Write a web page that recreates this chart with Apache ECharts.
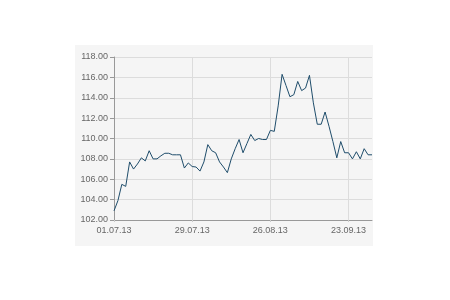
<!DOCTYPE html>
<html>
<head>
<meta charset="utf-8">
<script src="https://cdn.jsdelivr.net/npm/echarts@6/dist/echarts.min.js"></script>
<style>
html,body{margin:0;padding:0;background:#fff;}
#c{width:450px;height:300px;}
</style>
</head>
<body>
<div id="c"></div>
<script>
// Trading days 01.07.13 - 01.10.13
const dates = [
  "01.07.13","02.07.13","03.07.13","04.07.13","05.07.13",
  "08.07.13","09.07.13","10.07.13","11.07.13","12.07.13",
  "15.07.13","16.07.13","17.07.13","18.07.13","19.07.13",
  "22.07.13","23.07.13","24.07.13","25.07.13","26.07.13",
  "29.07.13","30.07.13","31.07.13","01.08.13","02.08.13",
  "05.08.13","06.08.13","07.08.13","08.08.13","09.08.13",
  "12.08.13","13.08.13","14.08.13","15.08.13","16.08.13",
  "19.08.13","20.08.13","21.08.13","22.08.13","23.08.13",
  "26.08.13","27.08.13","28.08.13","29.08.13","30.08.13",
  "02.09.13","03.09.13","04.09.13","05.09.13","06.09.13",
  "09.09.13","10.09.13","11.09.13","12.09.13","13.09.13",
  "16.09.13","17.09.13","18.09.13","19.09.13","20.09.13",
  "23.09.13","24.09.13","25.09.13","26.09.13","27.09.13",
  "30.09.13","01.10.13"
];
const prices = [
  102.9,103.9,105.5,105.3,107.7,
  107.0,107.5,108.1,107.8,108.8,
  108.0,108.0,108.3,108.55,108.55,
  108.4,108.4,108.4,107.1,107.6,
  107.25,107.2,106.8,107.7,109.4,
  108.8,108.6,107.7,107.2,106.65,
  108.0,109.0,109.9,108.6,109.5,
  110.4,109.8,110.0,109.9,109.9,
  110.8,110.7,113.2,116.3,115.2,
  114.1,114.3,115.6,114.7,114.95,
  116.2,113.5,111.4,111.4,112.6,
  111.2,109.7,108.1,109.7,108.6,
  108.6,108.0,108.7,108.0,109.0,
  108.4,108.4
];
const yTicks = { min: 102, max: 118, step: 2 };

const chart = echarts.init(document.getElementById('c'), null, {renderer:'canvas'});
const font = '"Liberation Sans", Arial, sans-serif';
chart.setOption({
  animation: false,
  backgroundColor: '#ffffff',
  graphic: [{
    type: 'rect', z: -100, silent: true,
    shape: { x: 75, y: 45, width: 298, height: 201 },
    style: { fill: '#f5f5f5' }
  }],
  grid: { left: 114, right: 78, top: 57, bottom: 80, containLabel: false },
  xAxis: {
    type: 'category',
    data: dates,
    boundaryGap: false,
    axisLine: { show: true, lineStyle: { color: '#999', width: 1 } },
    axisTick: { show: true, interval: 19, length: 2, lineStyle: { color: '#ccc' } },
    axisLabel: { interval: 19, margin: 6, color: '#666', fontSize: 9, fontFamily: font },
    splitLine: { show: true, interval: 19, lineStyle: { color: '#dcdcdc', width: 1 } }
  },
  yAxis: {
    type: 'value',
    min: yTicks.min, max: yTicks.max, interval: yTicks.step,
    axisLine: { show: true, lineStyle: { color: '#999', width: 1 } },
    axisTick: { show: true, length: 4, lineStyle: { color: '#999' } },
    axisLabel: { margin: 6, color: '#666', fontSize: 9, fontFamily: font,
      formatter: v => v.toFixed(2) },
    splitLine: { show: true, lineStyle: { color: '#dcdcdc', width: 1 } }
  },
  series: [{
    type: 'line',
    data: prices,
    symbol: 'none',
    lineStyle: { color: '#1f4d6b', width: 1 }
  }]
});
</script>
</body>
</html>
